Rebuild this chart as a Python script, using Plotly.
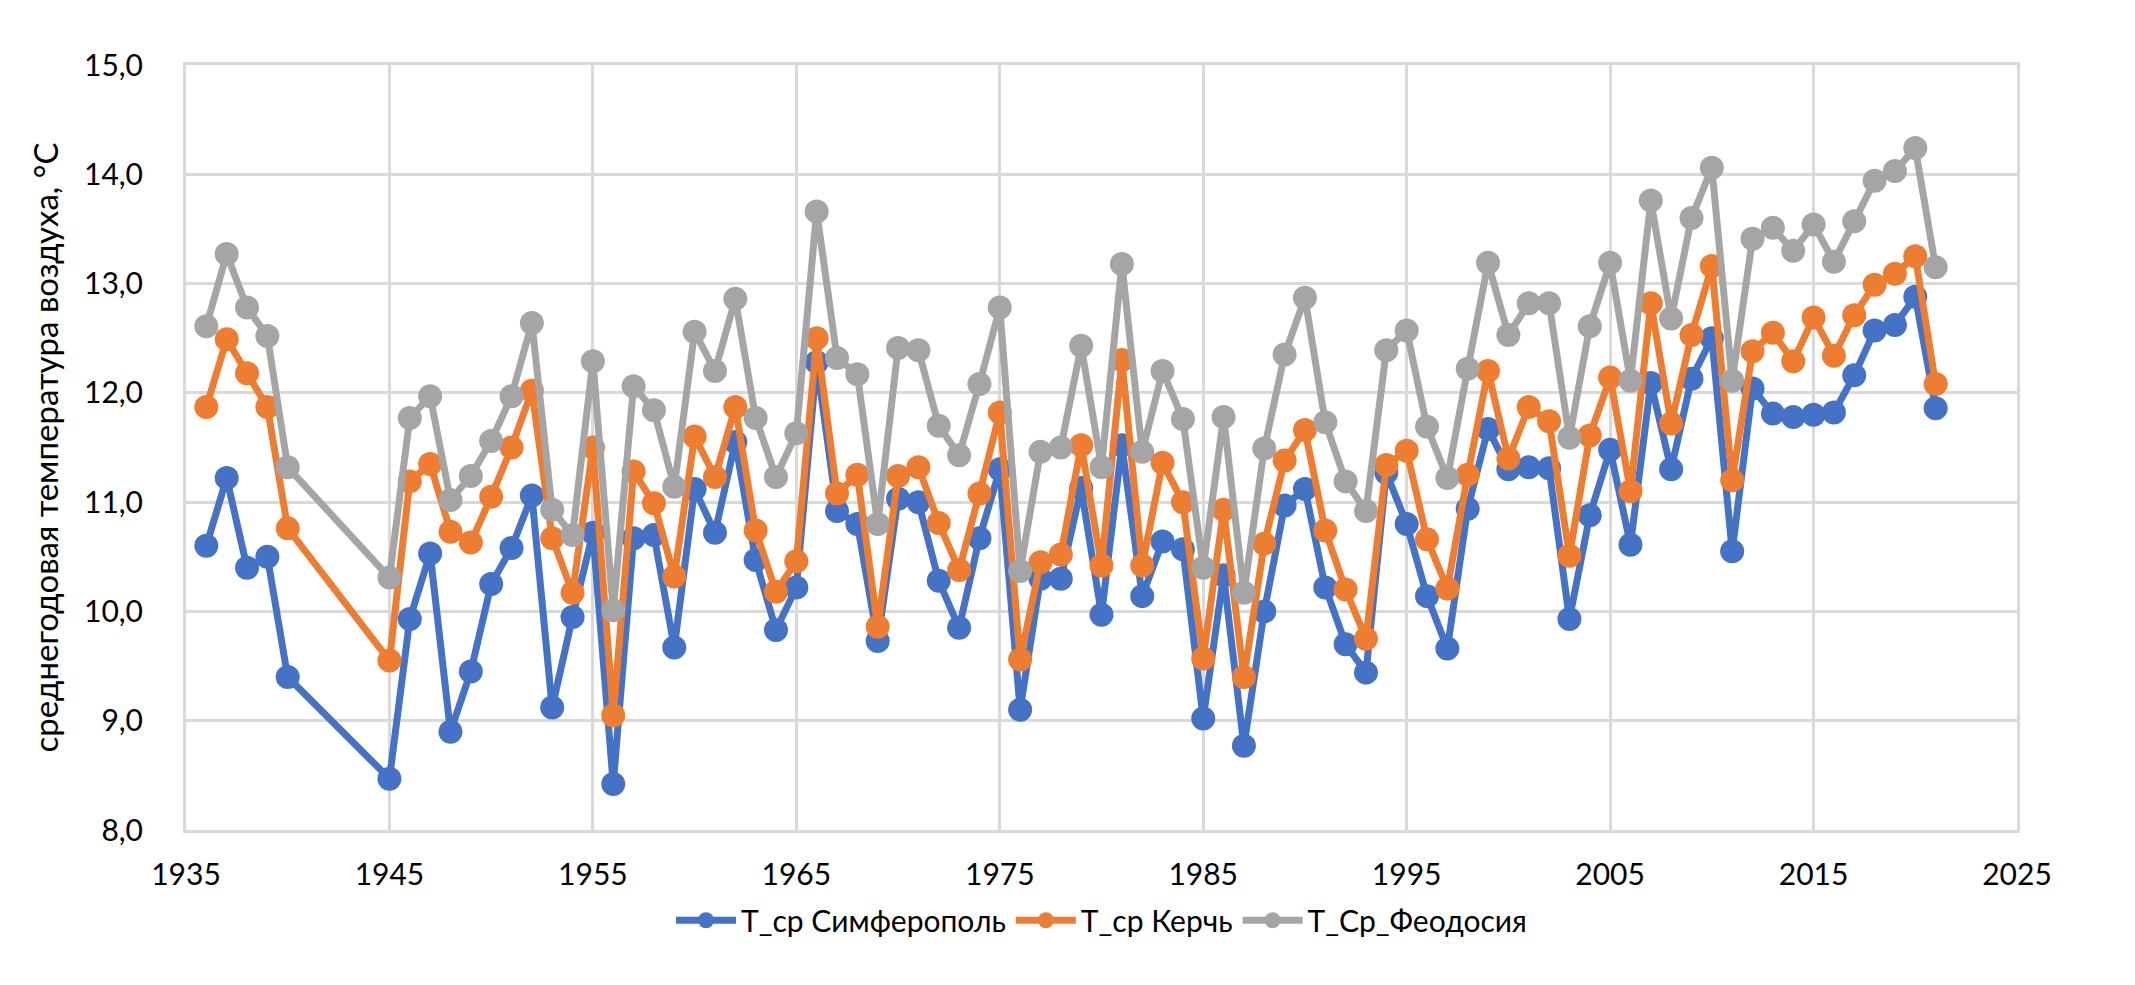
import plotly.graph_objects as go

years = [1936, 1937, 1938, 1939, 1940] + list(range(1945, 2022))

simferopol = [10.60, 11.22, 10.40, 10.50, 9.40,
              8.47, 9.93, 10.53, 8.90, 9.45, 10.25, 10.58, 11.06, 9.12, 9.95,
              10.72, 8.42, 10.67, 10.70, 9.67, 11.12, 10.72, 11.55, 10.47, 9.83,
              10.22, 12.28, 10.92, 10.80, 9.73, 11.03, 11.00, 10.28, 9.85, 10.67,
              11.30, 9.10, 10.30, 10.30, 11.13, 9.97, 11.52, 10.14, 10.64, 10.57,
              9.02, 10.33, 8.77, 10.00, 10.97, 11.12, 10.22, 9.70, 9.44, 11.27,
              10.80, 10.14, 9.66, 10.94, 11.67, 11.30, 11.32, 11.31, 9.93, 10.88,
              11.48, 10.61, 12.09, 11.30, 12.13, 12.50, 10.55, 12.04, 11.81, 11.78,
              11.80, 11.82, 12.16, 12.57, 12.62, 12.88, 11.86]

kerch = [11.87, 12.49, 12.18, 11.87, 10.76,
         9.55, 11.19, 11.35, 10.73, 10.63, 11.05, 11.50, 12.02, 10.67, 10.17,
         11.50, 9.05, 11.28, 10.99, 10.32, 11.60, 11.23, 11.87, 10.74, 10.18,
         10.46, 12.50, 11.08, 11.25, 9.86, 11.24, 11.32, 10.81, 10.38, 11.08,
         11.82, 9.56, 10.45, 10.52, 11.52, 10.42, 12.30, 10.42, 11.36, 11.00,
         9.57, 10.93, 9.40, 10.62, 11.38, 11.66, 10.74, 10.20, 9.75, 11.34,
         11.47, 10.66, 10.21, 11.25, 12.20, 11.40, 11.87, 11.74, 10.51, 11.61,
         12.14, 11.10, 12.82, 11.72, 12.53, 13.16, 11.20, 12.38, 12.55, 12.29,
         12.69, 12.34, 12.71, 12.99, 13.09, 13.25, 12.08]

feodosia = [12.61, 13.27, 12.78, 12.52, 11.32,
            10.31, 11.77, 11.97, 11.02, 11.24, 11.56, 11.97, 12.64, 10.93, 10.70,
            12.29, 10.01, 12.06, 11.84, 11.14, 12.56, 12.20, 12.86, 11.77, 11.23,
            11.63, 13.66, 12.32, 12.17, 10.80, 12.41, 12.39, 11.70, 11.43, 12.08,
            12.78, 10.37, 11.46, 11.50, 12.43, 11.32, 13.18, 11.46, 12.20, 11.76,
            10.40, 11.78, 10.17, 11.49, 12.35, 12.87, 11.73, 11.19, 10.92, 12.39,
            12.57, 11.69, 11.22, 12.22, 13.19, 12.53, 12.82, 12.82, 11.59, 12.61,
            13.19, 12.11, 13.76, 12.68, 13.60, 14.06, 12.11, 13.41, 13.51, 13.30,
            13.54, 13.20, 13.57, 13.94, 14.03, 14.24, 13.15]

series_names = ["T_ср Симферополь", "T_ср Керчь", "T_Ср_Феодосия"]
series_values = [simferopol, kerch, feodosia]
colors = ["#4472C4", "#ED7D31", "#A5A5A5"]

y_title = "среднегодовая температура воздуха, °С"

fig = go.Figure()
for name, vals, col in zip(series_names, series_values, colors):
    fig.add_trace(go.Scatter(
        x=years, y=vals, name=name, mode="lines+markers",
        line=dict(color=col, width=7),
        marker=dict(color=col, size=24),
    ))

font_family = "Lato"
fig.update_layout(
    width=2135, height=985,
    margin=dict(l=178, r=126, t=57, b=163),
    paper_bgcolor="white", plot_bgcolor="white",
    separators=", ",
    font=dict(family=font_family, size=30, color="black"),
    showlegend=True,
    legend=dict(orientation="h", x=0.5, xanchor="center", y=-0.118, yanchor="middle",
                font=dict(size=30), itemwidth=60, traceorder="normal"),
    xaxis=dict(range=[1935, 2025], dtick=10, tick0=1935, showgrid=True,
               gridcolor="#D9D9D9", gridwidth=3, showline=True, linecolor="#D9D9D9",
               linewidth=3, mirror=True, zeroline=False, ticks="",
               ticklabelstandoff=16, tickfont=dict(size=30)),
    yaxis=dict(range=[8, 15], dtick=1, tickformat=".1f", showgrid=True,
               gridcolor="#D9D9D9", gridwidth=3, showline=True, linecolor="#D9D9D9",
               linewidth=3, mirror=True, zeroline=False, ticks="",
               ticklabelstandoff=34, tickfont=dict(size=30),
               title=dict(text=y_title, font=dict(size=33), standoff=16)),
)

fig.write_html("out.html")
